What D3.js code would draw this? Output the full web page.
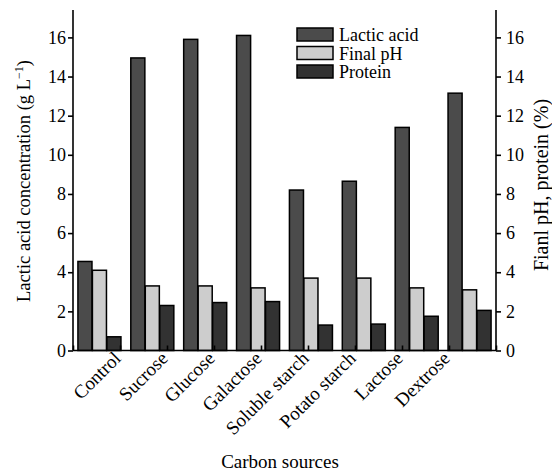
<!DOCTYPE html>
<meta charset="utf-8">
<style>
body { margin: 0; background: #fff; }
svg { font-family: "Liberation Serif", "Times New Roman", serif; }
.axis path, .axis line { stroke: #000; stroke-width: 1.6px; }
.axis text { font-size: 18px; fill: #000; }
.bar { stroke: #000; stroke-width: 1.5px; }
</style>
<body>
<script src="https://cdn.jsdelivr.net/npm/d3@7"></script>
<script>

var categories = ["Control", "Sucrose", "Glucose", "Galactose", "Soluble starch", "Potato starch", "Lactose", "Dextrose"];
var seriesNames = ["Lactic acid", "Final pH", "Protein"];
var lacticAcid = [4.55, 14.95, 15.9, 16.1, 8.2, 8.65, 11.4, 13.15];
var finalPH = [4.1, 3.3, 3.3, 3.2, 3.7, 3.7, 3.2, 3.1];
var protein = [0.7, 2.3, 2.45, 2.5, 1.3, 1.35, 1.75, 2.05];
var yTicks = [0, 2, 4, 6, 8, 10, 12, 14, 16];
var colors = ["#4b4b4b", "#cdcdcd", "#323232"];

var series = [lacticAcid, finalPH, protein];

var width = 552, height = 472;
var mLeft = 73, mRight = 496, mTop = 10, mBottom = 350.5;

var svg = d3.select("body").append("svg")
    .attr("width", width)
    .attr("height", height);

var y = d3.scaleLinear().domain([0, 17.4]).range([mBottom, mTop]);

var x0 = d3.scaleBand().domain(categories).range([mLeft, mRight])
    .paddingInner(0.17).paddingOuter(0.085);

var x1 = d3.scaleBand().domain(d3.range(3)).range([0, x0.bandwidth()]).padding(0.03);

// tick marks on x axis are evenly spaced over 9 intervals, labels sit on ticks 1..8
var xt = d3.scaleLinear().domain([0, 9]).range([mLeft, mRight]);

/* ------- BARS -------*/
var groups = svg.append("g").selectAll("g")
    .data(categories)
    .enter().append("g")
    .attr("transform", function(d) { return "translate(" + x0(d) + ",0)"; });

groups.selectAll("rect")
    .data(function(d, i) { return series.map(function(s, k) { return {k: k, v: s[i]}; }); })
    .enter().append("rect")
    .attr("class", "bar")
    .attr("x", function(d) { return x1(d.k); })
    .attr("width", x1.bandwidth())
    .attr("y", function(d) { return y(d.v); })
    .attr("height", function(d) { return y(0) - y(d.v); })
    .style("fill", function(d) { return colors[d.k]; });

/* ------- AXES -------*/
var yLeft = d3.axisLeft(y).tickValues(yTicks).tickSize(5).tickPadding(2);
svg.append("g").attr("class", "axis")
    .attr("transform", "translate(" + mLeft + ",0)")
    .call(yLeft)
    .attr("font-family", "Liberation Serif")
    .call(function(g) { g.select(".domain").attr("d", "M0," + mTop + "V" + mBottom); });

var yRight = d3.axisRight(y).tickValues(yTicks).tickSize(5).tickPadding(5);
svg.append("g").attr("class", "axis")
    .attr("transform", "translate(" + mRight + ",0)")
    .call(yRight)
    .attr("font-family", "Liberation Serif")
    .call(function(g) { g.select(".domain").attr("d", "M0," + mTop + "V" + mBottom); });

var xAxis = d3.axisBottom(xt).tickValues(d3.range(10)).tickSize(-5).tickFormat("");
svg.append("g").attr("class", "axis")
    .attr("transform", "translate(0," + mBottom + ")")
    .call(xAxis)
    .call(function(g) { g.select(".domain").attr("d", "M" + mLeft + ",0H" + mRight); });

svg.append("g").selectAll("text")
    .data(categories)
    .enter().append("text")
    .attr("text-anchor", "end")
    .style("font-size", "19px")
    .attr("transform", function(d, i) {
        return "translate(" + (xt(i + 1) + 2) + "," + (mBottom + 9) + ") rotate(-45)";
    })
    .text(function(d) { return d; });

/* ------- TITLES -------*/
var lt = svg.append("text")
    .attr("text-anchor", "middle")
    .style("font-size", "18.5px")
    .attr("transform", "translate(30,181) rotate(-90)");
lt.append("tspan").text("Lactic acid concentration (g L");
lt.append("tspan").attr("dy", -7).style("font-size", "12px").text("\u22121");
lt.append("tspan").attr("dy", 7).text(")");

svg.append("text")
    .attr("text-anchor", "middle")
    .style("font-size", "20px")
    .attr("transform", "translate(548,185) rotate(-90)")
    .text("Fianl pH, protein (%)");

svg.append("text")
    .attr("text-anchor", "middle")
    .style("font-size", "19px")
    .attr("x", 280)
    .attr("y", 468)
    .text("Carbon sources");

/* ------- LEGEND -------*/
var legend = svg.append("g").selectAll("g")
    .data(seriesNames)
    .enter().append("g")
    .attr("transform", function(d, i) { return "translate(297," + (28 + i * 18.5) + ")"; });

legend.append("rect")
    .attr("class", "bar")
    .attr("width", 36)
    .attr("height", 13)
    .style("fill", function(d, i) { return colors[i]; });

legend.append("text")
    .attr("x", 42)
    .attr("y", 13)
    .style("font-size", "18px")
    .text(function(d) { return d; });

</script>
</body>
